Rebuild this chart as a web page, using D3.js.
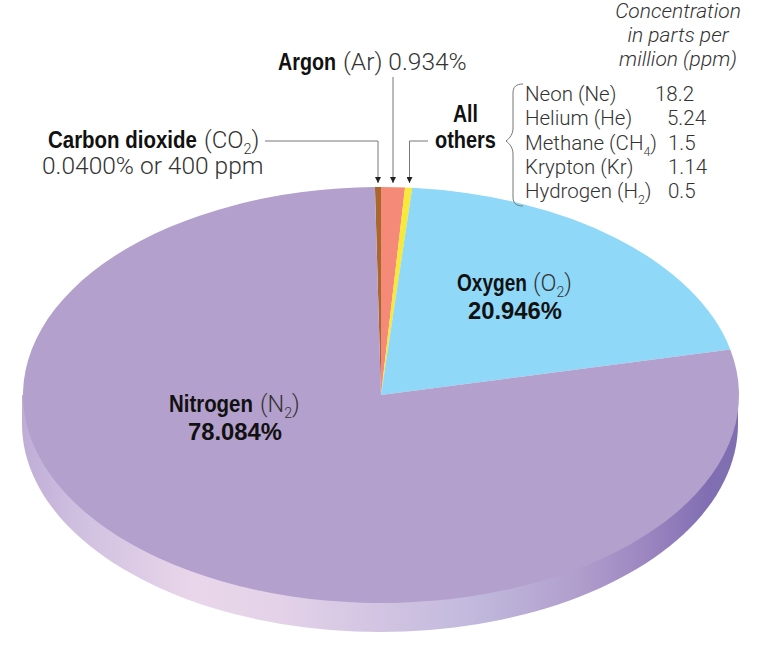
<!DOCTYPE html>
<html>
<head>
<meta charset="utf-8">
<script src="https://cdn.jsdelivr.net/npm/d3@7"></script>
<style>
  html, body { margin: 0; padding: 0; background: #fff; }
  svg { display: block; }
  text { font-family: Roboto, "Open Sans", sans-serif; font-weight: 300; fill: #333; }
  text.name { font-family: "Liberation Sans", Arial, sans-serif; font-weight: 700; fill: #111; font-size: 24px; }
</style>
</head>
<body>
<svg id="chart" width="760" height="648"></svg>
<script>
// slice shares as drawn in the picture (the small ones are exaggerated), percent
const gases = ["Carbon dioxide", "Argon", "All others", "Oxygen", "Nitrogen"];
const drawnShares = [0.27, 1.07, 0.32, 20.09, 78.25];
const sliceColors = ["#a9662d", "#f58a78", "#f8e838", "#8fd8f8", "#b3a0cc"];

const otherGases = ["Neon (Ne)", "Helium (He)", "Methane (CH|4|)", "Krypton (Kr)", "Hydrogen (H|2|)"];
const otherPpm = ["18.2", "5.24", "1.5", "1.14", "0.5"];
const otherPpmX = [655, 667, 668, 668, 668];

const headerLines = ["Concentration", "in parts per", "million (ppm)"];

const svg = d3.select("#chart");
const cx = 380, cy = 395, rx = 358, ry = 208, depth = 29;

const defs = svg.append("defs");

// rim gradient
const grad = defs.append("linearGradient")
  .attr("id", "rim")
  .attr("gradientUnits", "userSpaceOnUse")
  .attr("x1", cx - rx).attr("x2", cx + rx).attr("y1", 0).attr("y2", 0);
[[0, "#bfadd6"], [0.08, "#d0c0e0"], [0.24, "#e9d6ea"], [0.36, "#e3d2e8"], [0.5, "#d2c4e2"],
 [0.64, "#c0b8dc"], [0.78, "#b09dcc"], [0.88, "#9a84bf"], [0.96, "#806eb2"], [1, "#7f6fb0"]]
  .forEach(s => grad.append("stop").attr("offset", s[0]).attr("stop-color", s[1]));

defs.append("marker")
  .attr("id", "tip")
  .attr("viewBox", "0 0 6 6")
  .attr("refX", 6).attr("refY", 3)
  .attr("markerWidth", 6).attr("markerHeight", 6)
  .attr("markerUnits", "userSpaceOnUse")
  .attr("orient", "auto")
  .append("path")
  .attr("d", "M0,0L6,3L0,6Z")
  .attr("fill", "#222");

// rim: lower half of the ellipse pushed down by depth, closed behind the face
const rimPts = d3.range(0, 181, 2).map(a => {
  const t = a * Math.PI / 180;
  return [cx + rx * Math.cos(t), cy + depth + ry * Math.sin(t)];
});
rimPts.push([cx - rx, cy], [cx + rx, cy]);
svg.append("path")
  .attr("d", d3.line()(rimPts) + "Z")
  .attr("fill", "url(#rim)");

// pie face, squashed to an ellipse
const startDeg = -0.97;
const pie = d3.pie().sort(null)
  .startAngle(startDeg * Math.PI / 180)
  .endAngle((startDeg + 360) * Math.PI / 180);
const arc = d3.arc().innerRadius(0).outerRadius(rx);

svg.append("g")
  .attr("transform", `translate(${cx + 1},${cy}) scale(1,${ry / rx})`)
  .selectAll("path")
  .data(pie(drawnShares))
  .join("path")
  .attr("d", arc)
  .attr("fill", (d, i) => sliceColors[i]);

// leader lines
const leaders = [
  [[265, 141], [378, 141], [378, 183]],
  [[393, 77], [393, 183]],
  [[428, 141], [409.5, 141], [409.5, 183]]
];
svg.selectAll("path.leader")
  .data(leaders)
  .join("path")
  .attr("class", "leader")
  .attr("d", d3.line())
  .attr("fill", "none")
  .attr("stroke", "#777")
  .attr("stroke-width", 1)
  .attr("marker-end", "url(#tip)");

// brace
svg.append("path")
  .attr("d", "M523,84 C516,84 513,87 513,93 L513,128 C513,134 510,138 506,141 C510,144 513,148 513,154 L513,197 C513,203 516,206 523,206")
  .attr("fill", "none")
  .attr("stroke", "#777")
  .attr("stroke-width", 1);

// condensed bold: squeezed to the width it has in the picture
function bold(x, y, str, width) {
  const t = svg.append("text").attr("class", "name").text(str);
  const sx = width / t.node().getComputedTextLength();
  t.attr("transform", `translate(${x},${y}) scale(${sx},1)`);
}

function light(x, y, str, size, sub, rest, anchor) {
  const t = svg.append("text").attr("x", x).attr("y", y)
    .attr("text-anchor", anchor || "start")
    .style("font-size", size + "px")
    .text(str);
  if (sub) {
    t.append("tspan").attr("dy", 6).style("font-size", (size * 0.6) + "px").text(sub);
    t.append("tspan").attr("dy", -6).text(rest);
  }
  return t;
}

bold(278, 70, "Argon", 58);
light(343, 70, "(Ar) 0.934%", 24.5);
bold(48, 148, "Carbon dioxide", 149);
light(204, 148, "(CO", 24, "2", ")");
light(42, 174, "0.0400% or 400 ppm", 24.5);
bold(453, 122, "All", 25);
bold(435, 148, "others", 61);
bold(457, 291, "Oxygen", 70);
light(533, 291, "(O", 23.5, "2", ")");
bold(468, 319, "20.946%", 94);
bold(169, 412, "Nitrogen", 84);
light(260, 412, "(N", 23.5, "2", ")");
bold(188, 440, "78.084%", 94);

headerLines.forEach((line, i) => {
  light(678, 18 + i * 24, line, 21, null, null, "middle").style("font-style", "italic");
});

// "All others" table; | marks a subscript
const rowY = d3.scalePoint().domain(otherGases).range([101, 198]);
otherGases.forEach((g, i) => {
  const bits = g.split("|");
  light(525, rowY(g), bits[0], 20.5, bits[1], bits[2]);
  light(otherPpmX[i], rowY(g), otherPpm[i], 20.5);
});
</script>
</body>
</html>
